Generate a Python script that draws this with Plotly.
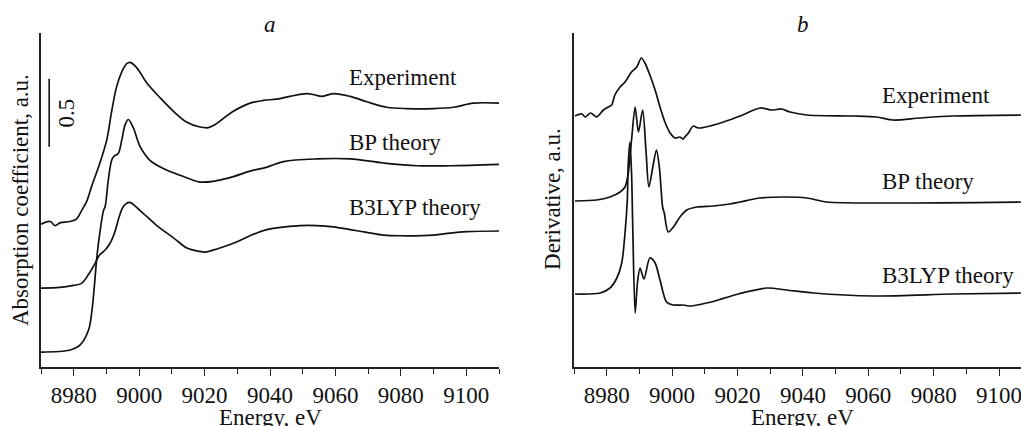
import plotly.graph_objects as go

# ---------------- Panel a: absorption (normalized, offset for display) -------------
abs_exp_E = [8970.0, 8972.8, 8974.3, 8975.8, 8978.9, 8980.9, 8982.4, 8984.0, 8985.5, 8988.0,
             8990.1, 8991.6, 8993.1, 8994.7, 8996.2, 8997.2, 8999.3, 9002.3, 9006.4, 9010.5,
             9014.6, 9018.6, 9021.1, 9022.7, 9028.8, 9033.9, 9038.0, 9042.1, 9046.1, 9051.3,
             9053.8, 9055.8, 9059.4, 9064.5, 9069.6, 9075.7, 9081.8, 9090.0, 9096.1, 9102.2, 9110.0]
abs_exp = [1.05, 1.07, 1.04, 1.06, 1.07, 1.09, 1.15, 1.22, 1.33, 1.50,
           1.67, 1.88, 2.06, 2.17, 2.23, 2.24, 2.20, 2.09, 1.98, 1.88,
           1.80, 1.765, 1.76, 1.775, 1.88, 1.94, 1.96, 1.97, 1.99, 2.01,
           2.00, 1.99, 2.01, 1.99, 1.95, 1.91, 1.90, 1.90, 1.91, 1.94, 1.94]

abs_bp_E = [8970.0, 8978.9, 8981.9, 8984.5, 8985.5, 8986.3, 8987.0, 8988.0, 8989.1, 8989.6,
            8990.6, 8991.6, 8992.3, 8993.6, 8994.7, 8995.7, 8996.7, 8998.2, 9000.3, 9003.3,
            9007.4, 9012.5, 9018.6, 9023.7, 9028.8, 9033.9, 9039.1, 9044.1, 9054.3, 9064.5,
            9074.7, 9084.9, 9095.1, 9110.0]
abs_bp = [0.11, 0.125, 0.16, 0.27, 0.40, 0.59, 0.79, 0.99, 1.15, 1.18,
          1.38, 1.52, 1.55, 1.57, 1.67, 1.78, 1.82, 1.76, 1.62, 1.52,
          1.46, 1.41, 1.36, 1.37, 1.40, 1.44, 1.47, 1.51, 1.53, 1.53,
          1.50, 1.48, 1.48, 1.49]

abs_b3_E = [8970.0, 8975.8, 8979.9, 8982.4, 8984.5, 8986.5, 8987.8, 8989.6, 8991.1, 8992.6,
            8993.9, 8995.2, 8997.0, 9000.3, 9005.4, 9010.5, 9014.6, 9018.6, 9020.2, 9024.0,
            9028.8, 9033.9, 9039.0, 9049.2, 9054.3, 9059.4, 9064.5, 9069.6, 9074.7, 9079.8,
            9090.0, 9095.1, 9100.2, 9110.0]
abs_b3 = [0.58, 0.585, 0.60, 0.615, 0.68, 0.76, 0.82, 0.86, 0.91, 0.995,
          1.105, 1.18, 1.21, 1.15, 1.04, 0.95, 0.875, 0.85, 0.845, 0.87,
          0.91, 0.965, 1.01, 1.04, 1.04, 1.03, 1.01, 0.99, 0.97, 0.965,
          0.97, 0.985, 0.995, 1.0]

# ---------------- Panel b: derivative (offset for display) -------------------------
der_exp_E = [8970.3, 8972.4, 8973.4, 8975.1, 8976.9, 8979.0, 8980.5, 8981.5, 8982.5, 8984.1,
             8985.6, 8986.6, 8987.6, 8989.2, 8990.6, 8991.7, 8993.2, 8994.8, 8996.3, 8997.8,
             8999.4, 9000.9, 9002.4, 9003.4, 9003.9, 9005.0, 9006.5, 9008.0, 9011.6, 9015.7,
             9020.8, 9026.9, 9030.5, 9033.5, 9036.1, 9041.2, 9055.4, 9062.6, 9067.6, 9075.8,
             9086.0, 9106.7]
der_exp = [2.51, 2.53, 2.50, 2.54, 2.50, 2.57, 2.60, 2.62, 2.72, 2.80,
           2.85, 2.90, 2.95, 3.00, 3.09, 3.04, 2.92, 2.77, 2.60, 2.45,
           2.34, 2.29, 2.30, 2.28, 2.30, 2.34, 2.41, 2.39, 2.41, 2.45,
           2.51, 2.59, 2.57, 2.58, 2.55, 2.52, 2.51, 2.50, 2.47, 2.49,
           2.51, 2.52]

der_bp_E = [8970.3, 8976.9, 8981.0, 8984.1, 8985.6, 8986.6, 8987.6, 8988.7, 8989.7, 8991.0,
            8992.0, 8992.9, 8994.1, 8995.2, 8996.1, 8997.1, 8997.6, 8998.8, 9000.4, 9002.4,
            9004.5, 9007.5, 9012.6, 9017.7, 9020.8, 9026.9, 9035.0, 9041.2, 9047.3, 9065.6,
            9106.7]
der_bp = [1.66, 1.67, 1.70, 1.75, 1.80, 1.94, 2.27, 2.60, 2.35, 2.57,
          2.17, 1.80, 2.00, 2.17, 2.00, 1.60, 1.54, 1.35, 1.40, 1.50,
          1.57, 1.60, 1.61, 1.63, 1.65, 1.69, 1.70, 1.69, 1.65, 1.64,
          1.65]

der_b3_E = [8970.3, 8978.0, 8981.0, 8983.1, 8984.6, 8985.6, 8986.3, 8986.6, 8987.1, 8987.6,
            8988.0, 8988.7, 8989.4, 8990.2, 8991.4, 8993.2, 8994.8, 8996.3, 8998.3, 9000.4,
            9003.4, 9005.5, 9008.5, 9012.6, 9014.6, 9020.8, 9029.0, 9035.0, 9043.2, 9061.5,
            9086.0, 9106.7]
der_b3 = [0.73, 0.74, 0.79, 0.89, 1.04, 1.34, 1.67, 2.04, 2.25, 1.94,
          1.34, 0.54, 0.84, 0.99, 0.88, 1.09, 1.04, 0.87, 0.65, 0.62,
          0.62, 0.61, 0.625, 0.655, 0.675, 0.735, 0.79, 0.77, 0.74, 0.71,
          0.73, 0.74]

curve_labels = ["Experiment", "BP theory", "B3LYP theory"]
label_y_a = [2.13, 1.65, 1.17]
label_y_b = [2.72, 1.86, 0.92]
label_x = 9063.5
x_ticks = [8980, 9000, 9020, 9040, 9060, 9080, 9100]
scale_bar_value = 0.5

FONT = "Liberation Serif, Times New Roman, serif"
INK = "#111111"

fig = go.Figure()
for E, y in [(abs_exp_E, abs_exp), (abs_bp_E, abs_bp), (abs_b3_E, abs_b3)]:
    fig.add_trace(go.Scatter(x=E, y=y, mode="lines", xaxis="x", yaxis="y",
                             line=dict(color=INK, width=1.7, shape="spline", smoothing=1.0),
                             showlegend=False, hoverinfo="skip"))
for E, y in [(der_exp_E, der_exp), (der_bp_E, der_bp), (der_b3_E, der_b3)]:
    fig.add_trace(go.Scatter(x=E, y=y, mode="lines", xaxis="x2", yaxis="y2",
                             line=dict(color=INK, width=1.7, shape="spline", smoothing=0.8),
                             showlegend=False, hoverinfo="skip"))

xaxis_common = dict(
    showline=True, linecolor="#222", linewidth=1.6, mirror=False,
    showgrid=False, zeroline=False,
    ticks="outside", ticklen=7, tickwidth=1.4, tickcolor="#222",
    tickvals=x_ticks, ticktext=[str(v) for v in x_ticks],
    minor=dict(dtick=10, tick0=8970, ticks="outside", ticklen=5, tickwidth=1.4, tickcolor="#222"),
    tickfont=dict(family=FONT, size=23, color=INK),
    ticklabeloverflow="allow",
)
yaxis_common = dict(showline=True, linecolor="#222", linewidth=1.6, showgrid=False,
                    zeroline=False, showticklabels=False, ticks="")

fig.update_layout(
    width=1021, height=426,
    margin=dict(l=41, r=0, t=33, b=59),
    paper_bgcolor="white", plot_bgcolor="white",
    font=dict(family=FONT, color=INK),
    xaxis=dict(domain=[0, 0.46735], range=[8970, 9110], anchor="y", **xaxis_common),
    yaxis=dict(domain=[0, 1], range=[0, 2.456], anchor="x", **yaxis_common),
    xaxis2=dict(domain=[0.54388, 1], range=[8970, 9106.7], anchor="y2", **xaxis_common),
    yaxis2=dict(domain=[0, 1], range=[0, 3.34], anchor="x2", **yaxis_common),
)

ann = []
for txt, yy in zip(curve_labels, label_y_a):
    ann.append(dict(x=label_x, y=yy, xref="x", yref="y", text=txt, showarrow=False,
                    xanchor="left", yanchor="middle", font=dict(family=FONT, size=23, color=INK)))
for txt, yy in zip(curve_labels, label_y_b):
    ann.append(dict(x=label_x, y=yy, xref="x2", yref="y2", text=txt, showarrow=False,
                    xanchor="left", yanchor="middle", font=dict(family=FONT, size=23, color=INK)))
# panel letters
ann.append(dict(x=0.2337, y=1.024, xref="paper", yref="paper", text="<i>a</i>", showarrow=False,
                xanchor="center", yanchor="middle", font=dict(family=FONT, size=23, color=INK)))
ann.append(dict(x=0.7776, y=1.024, xref="paper", yref="paper", text="<i>b</i>", showarrow=False,
                xanchor="center", yanchor="middle", font=dict(family=FONT, size=23, color=INK)))
# axis titles
ann.append(dict(x=-0.0214, y=0.5, xref="paper", yref="paper", text="Absorption coefficient, a.u.",
                textangle=-90, showarrow=False, xanchor="center", yanchor="middle",
                font=dict(family=FONT, size=23, color=INK)))
ann.append(dict(x=0.5224, y=0.503, xref="paper", yref="paper", text="Derivative, a.u.",
                textangle=-90, showarrow=False, xanchor="center", yanchor="middle",
                font=dict(family=FONT, size=23, color=INK)))
ann.append(dict(x=0.2337, y=-0.152, xref="paper", yref="paper", text="Energy, eV",
                showarrow=False, xanchor="center", yanchor="middle",
                font=dict(family=FONT, size=23, color=INK)))
ann.append(dict(x=0.7770, y=-0.152, xref="paper", yref="paper", text="Energy, eV",
                showarrow=False, xanchor="center", yanchor="middle",
                font=dict(family=FONT, size=23, color=INK)))
# scale bar label
ann.append(dict(x=8977.9, y=1.87, xref="x", yref="y", text="0.5", textangle=-90,
                showarrow=False, xanchor="center", yanchor="middle",
                font=dict(family=FONT, size=23, color=INK)))
fig.update_layout(annotations=ann)

# scale bar (0.5 a.u.)
fig.add_shape(type="line", xref="x", yref="y", x0=8972.5, x1=8972.5,
              y0=1.62, y1=1.62 + scale_bar_value, line=dict(color=INK, width=1.6))

fig.write_html("out.html", config={"displayModeBar": False},
               post_script="document.body.style.margin='0';document.body.style.overflow='hidden';")
